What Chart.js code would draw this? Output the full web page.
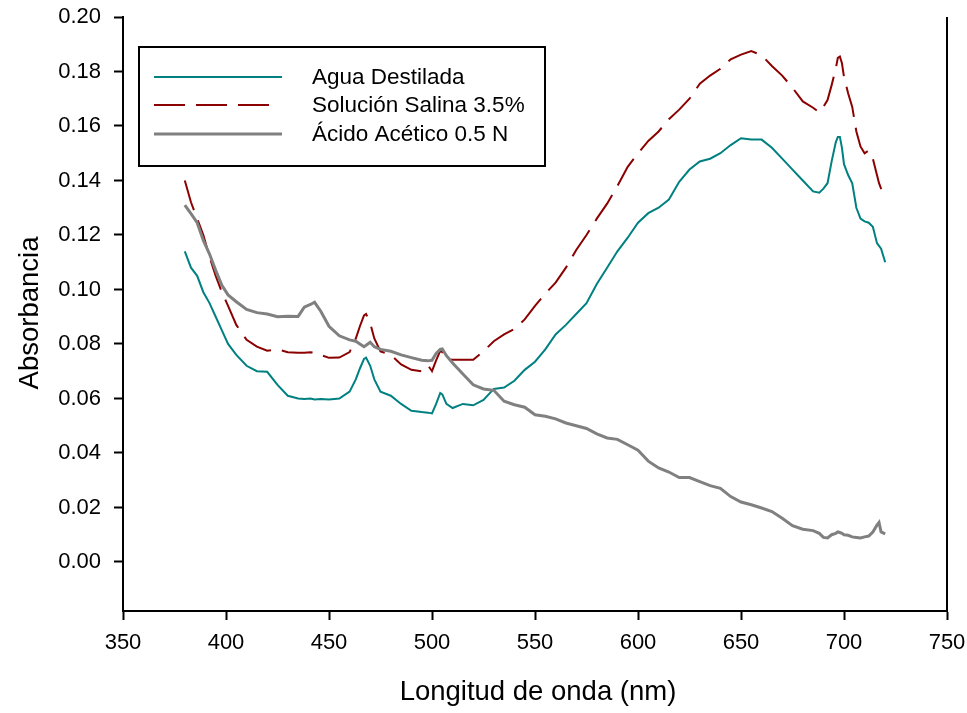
<!DOCTYPE html>
<html>
<head>
<meta charset="utf-8">
<style>
  body { margin: 0; background: #fff; }
  canvas { display: block; }
</style>
</head>
<body>
<canvas id="absChart" width="967" height="713"></canvas>

<script src="https://cdn.jsdelivr.net/npm/chart.js"></script>
<script>
(() => {
    // wavelength (nm)
    const wavelengths = [
        380, 383, 386, 389, 392, 395, 398, 401, 405, 410,
        415, 420, 425, 430, 435, 438, 441, 443, 446, 450,
        455, 460, 463, 465, 467, 468, 470, 472, 475, 480,
        485, 490, 495, 498, 500, 502, 504, 505, 507, 510,
        515, 520, 525, 530, 535, 540, 545, 550, 555, 560,
        565, 570, 575, 580, 585, 590, 595, 600, 605, 610,
        615, 620, 625, 630, 635, 640, 645, 650, 655, 660,
        665, 670, 675, 680, 685, 688, 690, 692, 694, 696,
        697, 698, 699, 700, 702, 704, 706, 708, 710, 712,
        714, 716, 717, 718, 720
    ];

    const aguaDestilada = [
        0.114, 0.108, 0.105, 0.099, 0.095, 0.090, 0.085, 0.080, 0.076, 0.072,
        0.070, 0.0698, 0.065, 0.061, 0.060, 0.0598, 0.060, 0.0596, 0.0598, 0.0596,
        0.060, 0.0625, 0.067, 0.071, 0.0745, 0.075, 0.072, 0.067, 0.0625, 0.061,
        0.058, 0.0555, 0.055, 0.0548, 0.0545, 0.058, 0.062, 0.0615, 0.058, 0.0565,
        0.058, 0.0575, 0.0595, 0.0635, 0.064, 0.0665, 0.0705, 0.0735, 0.078, 0.0835,
        0.087, 0.091, 0.095, 0.102, 0.108, 0.114, 0.119, 0.1245, 0.128, 0.130,
        0.133, 0.1395, 0.144, 0.147, 0.148, 0.150, 0.153, 0.1555, 0.155, 0.155,
        0.152, 0.148, 0.144, 0.140, 0.136, 0.1355, 0.137, 0.139, 0.147, 0.154,
        0.156, 0.156, 0.152, 0.146, 0.142, 0.139, 0.130, 0.126, 0.125, 0.1245,
        0.123, 0.117, 0.116, 0.115, 0.110
    ];

    const solucionSalina = [
        0.140, 0.132, 0.126, 0.120, 0.112, 0.105, 0.099, 0.094, 0.087, 0.0815,
        0.079, 0.0775, 0.078, 0.077, 0.0768, 0.0768, 0.077, 0.0768, 0.076, 0.0749,
        0.075, 0.077, 0.082, 0.0865, 0.0905, 0.091, 0.0877, 0.082, 0.0773, 0.076,
        0.0725, 0.0705, 0.070, 0.0722, 0.070, 0.074, 0.0775, 0.077, 0.0745, 0.0742,
        0.0742, 0.0742, 0.0773, 0.081, 0.0835, 0.0855, 0.089, 0.094, 0.0985, 0.1025,
        0.108, 0.1145, 0.120, 0.126, 0.1315, 0.138, 0.145, 0.150, 0.1545, 0.158,
        0.1625, 0.166, 0.170, 0.1755, 0.1785, 0.181, 0.1845, 0.1862, 0.1875, 0.186,
        0.182, 0.1785, 0.174, 0.169, 0.1667, 0.165, 0.167, 0.1695, 0.175, 0.181,
        0.185, 0.1855, 0.183, 0.178, 0.172, 0.167, 0.158, 0.1525, 0.150, 0.151,
        0.148, 0.142, 0.139, 0.137, 0.134
    ];

    const acidoAcetico = [
        0.131, 0.1278, 0.1245, 0.118, 0.113, 0.107, 0.1015, 0.098, 0.0955, 0.0927,
        0.0915, 0.091, 0.090, 0.0902, 0.0901, 0.0935, 0.0945, 0.0953, 0.092, 0.0865,
        0.083, 0.0815, 0.081, 0.080, 0.079, 0.0795, 0.0806, 0.079, 0.078, 0.0773,
        0.076, 0.075, 0.074, 0.0738, 0.074, 0.0765, 0.078, 0.0782, 0.0757, 0.073,
        0.069, 0.065, 0.0635, 0.063, 0.059, 0.0577, 0.0568, 0.054, 0.0535, 0.0525,
        0.051, 0.050, 0.049, 0.047, 0.0455, 0.045, 0.043, 0.041, 0.037, 0.0345,
        0.033, 0.031, 0.031, 0.0295, 0.028, 0.027, 0.024, 0.022, 0.021, 0.0198,
        0.0185, 0.016, 0.0133, 0.012, 0.0115, 0.0105, 0.009, 0.0088, 0.010, 0.0105,
        0.011, 0.0108, 0.0105, 0.010, 0.0098, 0.0092, 0.009, 0.0088, 0.0092, 0.0095,
        0.011, 0.0135, 0.0145, 0.011, 0.0103
    ];

    const seriesNames = ["Agua Destilada", "Solución Salina 3.5%", "Ácido Acético 0.5 N"];
    const yTicks = [0, 0.02, 0.04, 0.06, 0.08, 0.10, 0.12, 0.14, 0.16, 0.18, 0.20];
    const xTicks = [350, 400, 450, 500, 550, 600, 650, 700, 750];

    const FONT = "'Liberation Sans', Arial, sans-serif";

    const toPoints = vals => wavelengths.map((w, i) => ({ x: w, y: vals[i] }));

    const styles = [
        { color: "#008080", width: 2, dash: [] },
        { color: "#8b0000", width: 2, dash: [31, 11] },
        { color: "#808080", width: 3, dash: [] }
    ];

    // legend box, axis titles, right frame line
    const extras = {
        id: "extras",
        afterDraw(chart) {
            const ctx = chart.ctx;
            const area = chart.chartArea;
            ctx.save();

            ctx.strokeStyle = "#000";
            ctx.lineWidth = 2;
            ctx.beginPath();
            ctx.moveTo(area.right, area.top);
            ctx.lineTo(area.right, area.bottom);
            ctx.stroke();

            // legend
            ctx.strokeRect(139, 47, 406, 119);
            const rowsY = [77, 105, 134];
            styles.forEach((s, i) => {
                ctx.strokeStyle = s.color;
                ctx.lineWidth = s.width;
                ctx.setLineDash(s.dash);
                ctx.beginPath();
                ctx.moveTo(154, rowsY[i]);
                ctx.lineTo(i === 1 ? 270 : 282, rowsY[i]);
                ctx.stroke();
                ctx.setLineDash([]);
                ctx.fillStyle = "#000";
                ctx.font = "22.5px " + FONT;
                ctx.textBaseline = "middle";
                ctx.textAlign = "left";
                ctx.fillText(seriesNames[i], 312, rowsY[i] + 1);
            });

            // axis titles
            ctx.fillStyle = "#000";
            ctx.font = "27.5px " + FONT;
            ctx.textAlign = "center";
            ctx.textBaseline = "middle";
            ctx.fillText("Longitud de onda (nm)", 538, 692);
            ctx.translate(30, 313);
            ctx.rotate(-Math.PI / 2);
            ctx.fillText("Absorbancia", 0, 0);

            ctx.restore();
        }
    };

    new Chart(document.getElementById("absChart"), {
        type: "line",
        data: {
            datasets: [aguaDestilada, solucionSalina, acidoAcetico].map((vals, i) => ({
                label: seriesNames[i],
                data: toPoints(vals),
                borderColor: styles[i].color,
                borderWidth: styles[i].width,
                borderDash: styles[i].dash,
                pointRadius: 0,
                tension: 0,
                fill: false
            })).reverse()
        },
        options: {
            responsive: false,
            animation: false,
            layout: { padding: { top: 17, right: 20, left: 0, bottom: 0 } },
            plugins: {
                legend: { display: false },
                tooltip: { enabled: false }
            },
            scales: {
                x: {
                    type: "linear",
                    min: 350,
                    max: 750,
                    afterBuildTicks: scale => { scale.ticks = xTicks.map(v => ({ value: v })); },
                    afterFit: scale => {
                        scale.height = 102;
                        scale.paddingLeft = 0;
                        scale.paddingRight = 0;
                    },
                    border: { display: true, color: "#000", width: 2 },
                    grid: {
                        drawOnChartArea: false,
                        drawTicks: true,
                        tickLength: 9,
                        tickWidth: 2,
                        tickColor: "#000"
                    },
                    ticks: {
                        color: "#000",
                        padding: 10,
                        maxRotation: 0,
                        font: { family: FONT, size: 22 },
                        callback: v => String(v)
                    }
                },
                y: {
                    type: "linear",
                    min: -0.018,
                    max: 0.2,
                    afterBuildTicks: scale => { scale.ticks = yTicks.map(v => ({ value: v })); },
                    afterFit: scale => {
                        scale.width = 123;
                        scale.paddingTop = 0;
                        scale.paddingBottom = 0;
                    },
                    border: { display: true, color: "#000", width: 2 },
                    grid: {
                        drawOnChartArea: false,
                        drawTicks: true,
                        tickLength: 9,
                        tickWidth: 2,
                        tickColor: "#000"
                    },
                    ticks: {
                        color: "#000",
                        padding: 13,
                        font: { family: FONT, size: 22 },
                        callback: v => Number(v).toFixed(2)
                    }
                }
            }
        },
        plugins: [extras]
    });
})();
</script>
</body>
</html>
